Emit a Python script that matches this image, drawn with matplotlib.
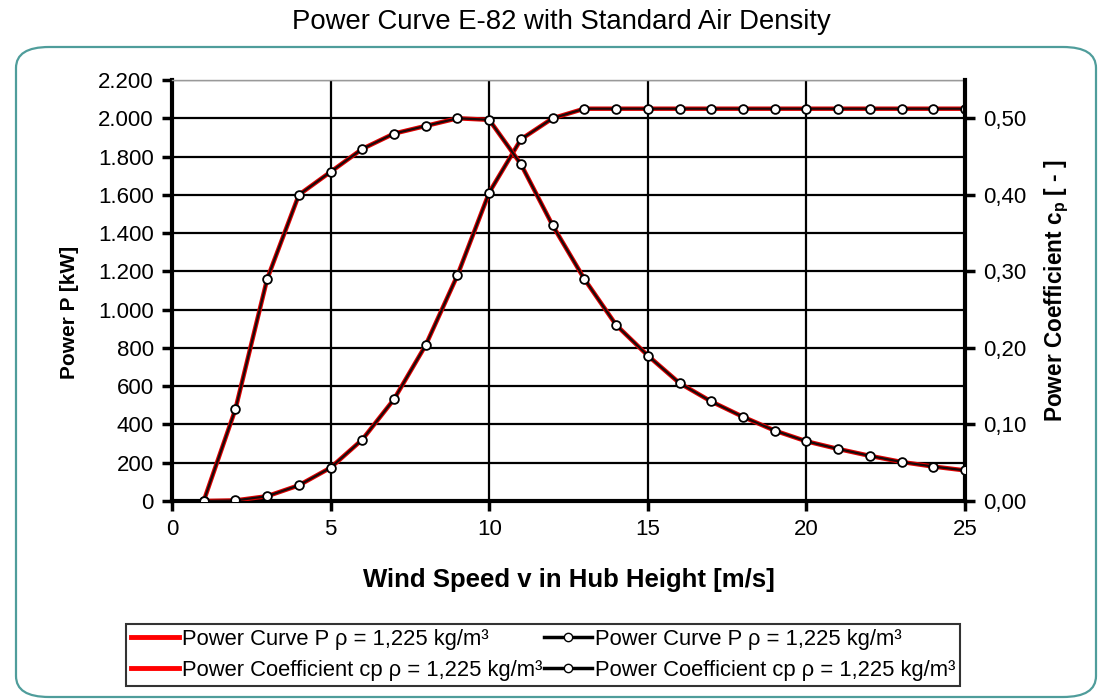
import matplotlib
matplotlib.use("Agg")
import matplotlib.pyplot as plt
from matplotlib.lines import Line2D
from matplotlib.patches import FancyBboxPatch
from matplotlib.ticker import FuncFormatter, MultipleLocator

plt.rcParams['font.family'] = ['Liberation Sans', 'DejaVu Sans']

# wind speed [m/s]
wind_speed = list(range(1, 26))
# power P [kW]
power_kw = [0, 3, 25, 82, 174, 321, 532, 815, 1180, 1612, 1890, 2000, 2050,
            2050, 2050, 2050, 2050, 2050, 2050, 2050, 2050, 2050, 2050, 2050, 2050]
# power coefficient cp [-]
power_coeff = [0.00, 0.12, 0.29, 0.40, 0.43, 0.46, 0.48, 0.49, 0.50, 0.498, 0.44, 0.36, 0.29,
               0.23, 0.19, 0.154, 0.13, 0.11, 0.092, 0.078, 0.068, 0.059, 0.051, 0.045, 0.04]

title = "Power Curve E-82 with Standard Air Density"
legend_labels = ["Power Curve P \u03c1 = 1,225 kg/m\u00b3",
                 "Power Coefficient cp \u03c1 = 1,225 kg/m\u00b3",
                 "Power Curve P \u03c1 = 1,225 kg/m\u00b3",
                 "Power Coefficient cp \u03c1 = 1,225 kg/m\u00b3"]

W, H = 1102, 699
fig = plt.figure(figsize=(W / 100, H / 100), dpi=100)

# rounded chart frame
frame = FancyBboxPatch((16 / W, 2 / H), (1096 - 16) / W, (652 - 2) / H,
                       boxstyle="round,pad=0,rounding_size=0.03",
                       transform=fig.transFigure, facecolor='none',
                       edgecolor='#4f9d9b', linewidth=1.6, zorder=-1)
fig.patches.append(frame)

fig.text(561 / W, 1 - 22 / H, title, ha='center', va='center', fontsize=19.8)

ax = fig.add_axes([172 / W, 1 - 501 / H, (965 - 172) / W, (501 - 80) / H])
ax.set_xlim(0, 25)
ax.set_ylim(0, 2200)
ax.xaxis.set_major_locator(MultipleLocator(5))
ax.yaxis.set_major_locator(MultipleLocator(200))
ax.grid(True, color='black', linewidth=1.6)
ax.set_axisbelow(True)
ax.yaxis.set_major_formatter(FuncFormatter(lambda v, p: f"{int(v):,}".replace(",", ".")))
for s in ('left', 'bottom'):
    ax.spines[s].set_linewidth(3)
ax.spines['top'].set_linewidth(1)
ax.spines['top'].set_color('#999999')
ax.spines['right'].set_visible(False)
ax.tick_params(axis='both', direction='out', length=7, width=2.5, labelsize=16, pad=6)
ax.set_xlabel("Wind Speed v in Hub Height [m/s]", fontsize=18.5, fontweight='bold', labelpad=20)
ax.set_ylabel("Power P [kW]", fontsize=15, fontweight='bold')
ax.yaxis.set_label_coords(-0.117, 0.447)

ax2 = ax.twinx()
ax2.set_ylim(0, 0.55)
ax2.yaxis.set_major_locator(MultipleLocator(0.1))
ax2.yaxis.set_major_formatter(FuncFormatter(lambda v, p: f"{v:.2f}".replace(".", ",")))
ax2.spines['right'].set_linewidth(3)
for s in ('left', 'top', 'bottom'):
    ax2.spines[s].set_visible(False)
ax2.tick_params(axis='y', direction='out', length=7, width=2.5, labelsize=16, pad=6)
ax2.set_ylabel("Power Coefficient c$_\\mathregular{p}$ [ - ]", fontsize=16.3, fontweight='bold')
ax2.yaxis.set_label_coords(1.098, 0.5)

# red lines below, black marker lines above
ax.plot(wind_speed, power_kw, color='#e00000', linewidth=3.2, zorder=3)
ax2.plot(wind_speed, power_coeff, color='#e00000', linewidth=3.2, zorder=3)
mk = dict(color='#1a0a0a', linewidth=1.6, marker='o', markersize=6.3,
          markerfacecolor='white', markeredgecolor='black', markeredgewidth=1.3, zorder=4)
ax.plot(wind_speed, power_kw, **mk)
ax2.plot(wind_speed, power_coeff, **mk)

handles = [Line2D([], [], color='red', linewidth=3.5),
           Line2D([], [], color='red', linewidth=3.5),
           Line2D([], [], color='black', linewidth=2.5, marker='o', markersize=6,
                  markerfacecolor='white', markeredgecolor='black'),
           Line2D([], [], color='black', linewidth=2.5, marker='o', markersize=6,
                  markerfacecolor='white', markeredgecolor='black')]
leg = fig.legend(handles, legend_labels, ncol=2, loc='center',
                 bbox_to_anchor=(543 / W, 1 - 655 / H),
                 fontsize=15.8, frameon=True, fancybox=False,
                 edgecolor='black', handlelength=2.2, handletextpad=0.1,
                 labelspacing=0.45, borderpad=0.25, borderaxespad=0, columnspacing=0.1)
leg.get_frame().set_linewidth(1.5)

fig.savefig("out.png", dpi=100)
